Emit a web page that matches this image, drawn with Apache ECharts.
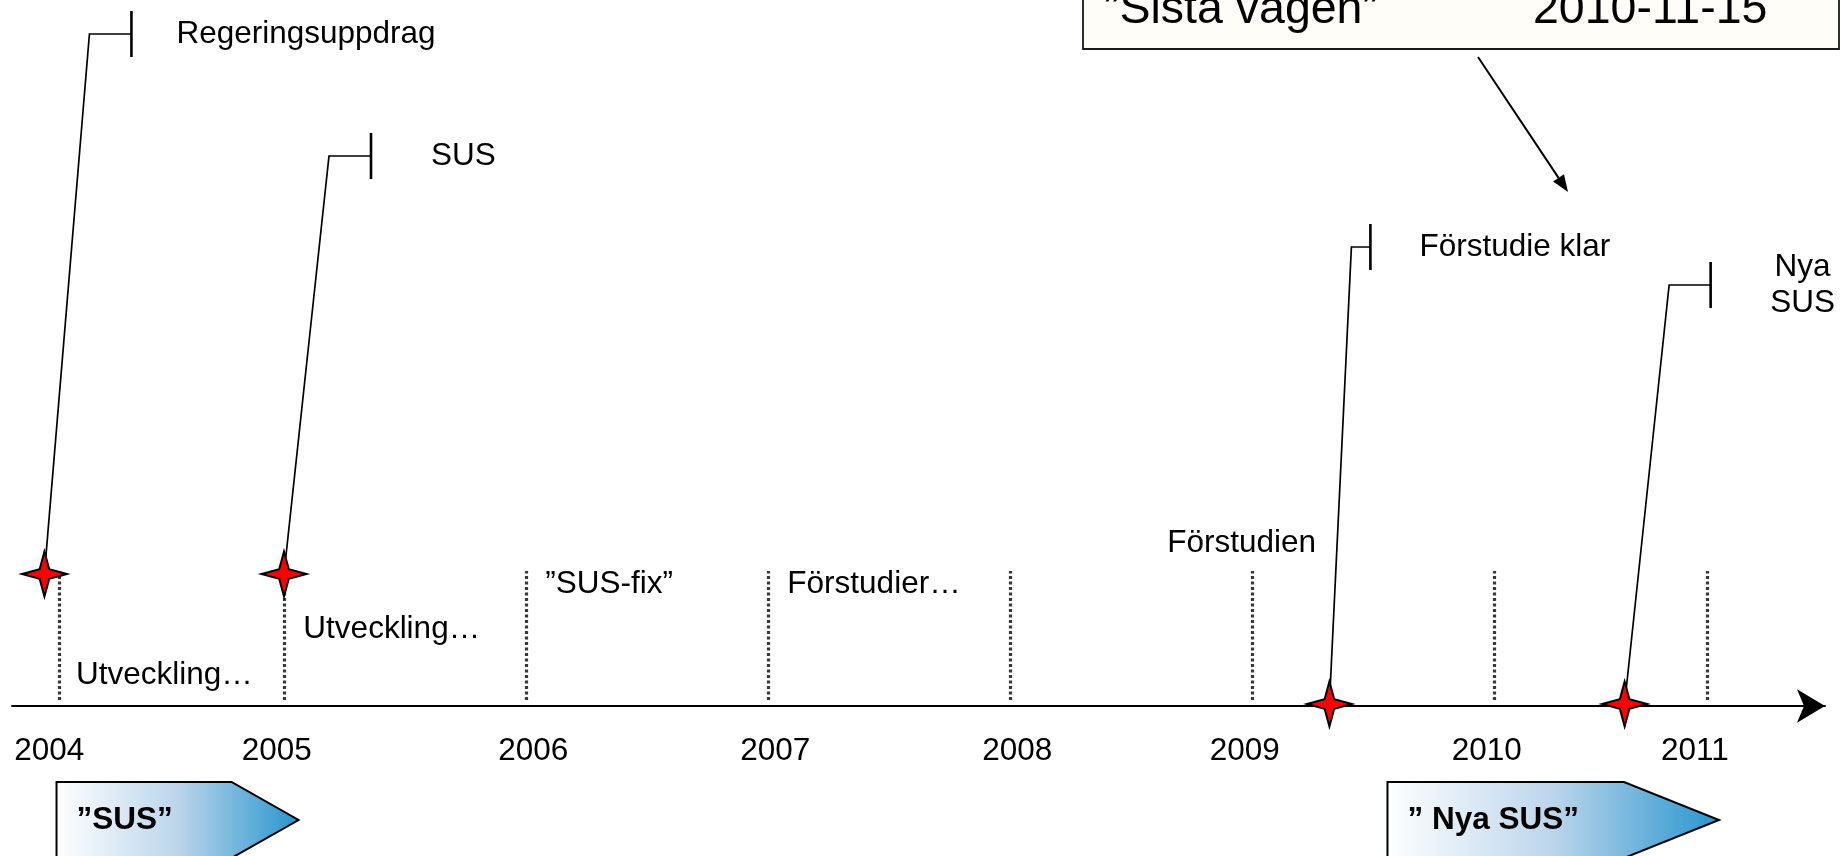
<!DOCTYPE html>
<html><head><meta charset="utf-8">
<style>html,body{margin:0;padding:0;background:#fff;}#c{width:1841px;height:856px;}</style>
<script src="https://cdn.jsdelivr.net/npm/echarts@6/dist/echarts.min.js"></script>
</head><body><div id="c"></div>
<script>
// ---------- data (decimal years) ----------
const yearTicks = [2004, 2005, 2006, 2007, 2008, 2009, 2010, 2011];
const yearLabelAt = [2004.03, 2004.97, 2006.03, 2007.03, 2008.03, 2008.97, 2009.97, 2010.83];
const yearLineAt = [2004.07, 2005.00, 2006.00, 2007.00, 2008.00, 2009.00, 2010.00, 2010.88];
const eventNames = ['Regeringsuppdrag', 'SUS', 'Förstudie klar', 'Nya\nSUS'];
const eventDates = [2004.01, 2005.00, 2009.32, 2010.54];
const phaseNames = ['Utveckling…', 'Utveckling…', '”SUS-fix”', 'Förstudier…', 'Förstudien'];
const phaseStarts = [2004.14, 2005.08, 2006.08, 2007.08, 2008.65];
const periodNames = ['”SUS”', '” Nya SUS”'];
const periodStarts = [2004.06, 2009.56];
const periodEnds = [2005.06, 2010.93];
const noteLabel = '”Sista vägen”';
const noteDate = '2010-11-15';

// ---------- layout ----------
const X_MIN = 2003.876, X_MAX = 2011.368;
const starLevel = [132, 132, 2, 2];
const labelLevel = [672, 550, 459, 421];
const elbowDx = [45, 45, 22, 44.5];
const barDx = [42, 42, 19, 41.5];
const textDx = [45, 60, 49, 92];
const textAlign = ['left', 'left', 'left', 'center'];
const phaseLevel = [31, 77, 122, 122, 163];
const periodTop = -76, periodBottom = -152, periodPoint = [67, 95];
const FONT = '"Liberation Sans", Arial, Helvetica, sans-serif';
const FS = 31.5;

function starPts(cx, cy, r, k) {
  return [[cx, cy - r], [cx + k, cy - k], [cx + r, cy], [cx + k, cy + k],
          [cx, cy + r], [cx - k, cy + k], [cx - r, cy], [cx - k, cy - k]];
}

const chart = echarts.init(document.getElementById('c'), null, {renderer: 'canvas'});

// note box arrow geometry
const aS = [1478, 57], aT = [1568, 192];
const dl = Math.hypot(aT[0] - aS[0], aT[1] - aS[1]);
const ux = (aT[0] - aS[0]) / dl, uy = (aT[1] - aS[1]) / dl;
const hl = 17, hw = 6.5;
const hb = [aT[0] - ux * hl, aT[1] - uy * hl];

const option = {
  animation: false,
  backgroundColor: '#ffffff',
  grid: {left: 12, right: 16, top: 0, bottom: 150, containLabel: false, outerBoundsMode: 'none'},
  xAxis: {
    type: 'value', min: X_MIN, max: X_MAX,
    axisLine: {show: true, onZero: false, symbol: ['none', 'arrow'], symbolSize: [25, 28],
               lineStyle: {color: '#000', width: 2}},
    axisTick: {show: false},
    splitLine: {show: false},
    axisLabel: {
      customValues: yearLabelAt,
      formatter: v => String(Math.round(v)),
      color: '#000', fontSize: FS, fontFamily: FONT,
      margin: 45, verticalAlign: 'middle'
    }
  },
  yAxis: {type: 'value', min: 0, max: 706, show: false},
  graphic: [
    {type: 'rect', shape: {x: 1083, y: -30, width: 756, height: 79},
     style: {fill: '#FFFDF8', stroke: '#1a1a1a', lineWidth: 1.8}, z: 10},
    {type: 'text', x: 1104, y: 10.5,
     style: {text: noteLabel, fill: '#000', fontSize: 46.5, fontFamily: FONT, verticalAlign: 'middle', align: 'left'}, z: 11},
    {type: 'text', x: 1533, y: 10.5,
     style: {text: noteDate, fill: '#000', fontSize: 46.5, fontFamily: FONT, verticalAlign: 'middle', align: 'left'}, z: 11},
    {type: 'line', shape: {x1: aS[0], y1: aS[1], x2: hb[0], y2: hb[1]},
     style: {stroke: '#000', lineWidth: 2}, z: 11},
    {type: 'polygon', shape: {points: [aT, [hb[0] - uy * hw, hb[1] + ux * hw], [hb[0] + uy * hw, hb[1] - ux * hw]]},
     style: {fill: '#000'}, z: 11}
  ],
  series: [
    {
      type: 'custom', silent: true, z: 1, clip: false,
      data: yearLineAt.map(v => [v, 0]),
      renderItem: (p, api) => {
        const a = api.coord([api.value(0), 6]);
        const b = api.coord([api.value(0), 135]);
        const x = Math.round(a[0]) + 0.5;
        return {type: 'line', shape: {x1: x, y1: Math.round(a[1]), x2: x, y2: Math.round(b[1])},
                style: {stroke: '#383838', lineWidth: 3.2, lineDash: [3, 2.5]}};
      }
    },
    {
      type: 'custom', silent: true, z: 2, clip: false,
      data: phaseStarts.map((v, i) => [v, phaseLevel[i]]),
      renderItem: (p, api) => {
        const c = api.coord([api.value(0), api.value(1)]);
        return {type: 'text', style: {text: phaseNames[p.dataIndex], x: c[0], y: c[1],
                fill: '#000', fontSize: FS, fontFamily: FONT, align: 'left', verticalAlign: 'middle'}};
      }
    },
    {
      type: 'custom', silent: true, z: 5, clip: false,
      data: eventDates.map((v, i) => [v, starLevel[i], labelLevel[i]]),
      renderItem: (p, api) => {
        const i = p.dataIndex;
        const s = api.coord([api.value(0), api.value(1)]);
        const l = api.coord([api.value(0), api.value(2)]);
        const ex = s[0] + elbowDx[i], ey = l[1];
        const bx = ex + barDx[i];
        return {type: 'group', children: [
          {type: 'polyline', shape: {points: [s, [ex, ey], [bx, ey]]},
           style: {stroke: '#000', lineWidth: 1.7, fill: null}},
          {type: 'line', shape: {x1: bx, y1: ey - 23, x2: bx, y2: ey + 23},
           style: {stroke: '#000', lineWidth: 2.6}},
          {type: 'polygon', shape: {points: starPts(s[0], s[1], 22.5, 4.8)},
           style: {fill: '#FF0000', stroke: '#000', lineWidth: 2, lineJoin: 'miter'}},
          {type: 'text', style: {text: eventNames[i], x: bx + textDx[i], y: ey,
           fill: '#000', fontSize: FS, fontFamily: FONT, align: textAlign[i],
           verticalAlign: 'middle', lineHeight: 36}}
        ]};
      }
    },
    {
      type: 'custom', silent: true, z: 3, clip: false,
      data: periodStarts.map((v, i) => [v, periodEnds[i]]),
      renderItem: (p, api) => {
        const i = p.dataIndex;
        const a = api.coord([api.value(0), periodTop]);
        const b = api.coord([api.value(1), periodBottom]);
        const mid = (a[1] + b[1]) / 2;
        const pts = [[a[0], a[1]], [b[0] - periodPoint[i], a[1]], [b[0], mid],
                     [b[0] - periodPoint[i], b[1]], [a[0], b[1]]];
        return {type: 'group', children: [
          {type: 'polygon', shape: {points: pts},
           style: {fill: new echarts.graphic.LinearGradient(0, 0, 1, 0, [
             {offset: 0, color: '#FFFFFF'}, {offset: 0.5, color: '#BCD5EB'}, {offset: 1, color: '#2795CE'}]),
             stroke: '#000', lineWidth: 2}},
          {type: 'text', style: {text: periodNames[i], x: a[0] + 20, y: mid,
           fill: '#000', fontSize: FS, fontWeight: 'bold', fontFamily: FONT,
           align: 'left', verticalAlign: 'middle'}}
        ]};
      }
    }
  ]
};
chart.setOption(option);
</script></body></html>
